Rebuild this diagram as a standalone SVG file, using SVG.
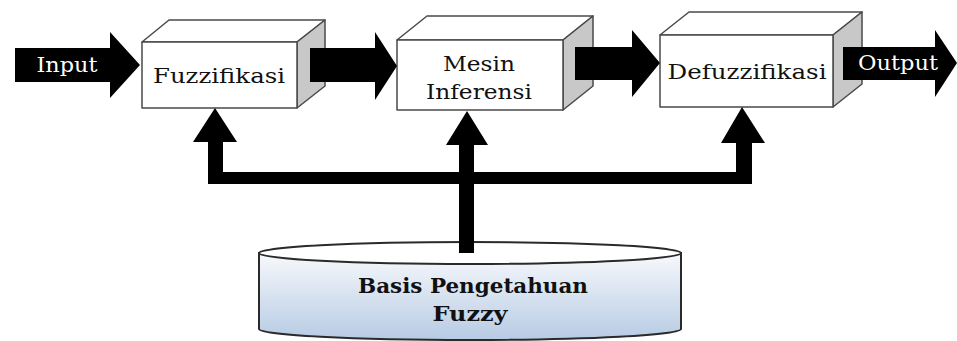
<svg xmlns="http://www.w3.org/2000/svg" width="957" height="341" viewBox="0 0 957 341">
<defs>
<linearGradient id="cylGrad" x1="0" y1="0" x2="0" y2="1">
<stop offset="0" stop-color="#f7f9fc"/>
<stop offset="1" stop-color="#b7cbe4"/>
</linearGradient>
<style>
.face{fill:#ffffff;stroke:#4a4a4a;stroke-width:1.5;stroke-linejoin:round}
.side{fill:#c8c8c8;stroke:#4a4a4a;stroke-width:1.5;stroke-linejoin:round}
.blk{fill:#000000}
.lbl{font-family:"DejaVu Serif","Liberation Serif",serif;font-size:20.5px;fill:#111111;text-anchor:middle}
.wlbl{font-family:"DejaVu Serif","Liberation Serif",serif;font-size:20.5px;fill:#ffffff;text-anchor:middle}
.blbl{font-family:"DejaVu Serif","Liberation Serif",serif;font-size:19.5px;font-weight:bold;fill:#111111;text-anchor:middle}
</style>
</defs>
<rect width="957" height="341" fill="#ffffff"/>

<g id="basis">
<path d="M259,253 L259,329 A211,11 0 0 0 681,329 L681,253 Z" fill="url(#cylGrad)" stroke="#2a2a2a" stroke-width="2"/>
<ellipse cx="470" cy="253" rx="211" ry="11" fill="#ffffff" stroke="#2a2a2a" stroke-width="2"/>
<text class="blbl" x="473" y="293" textLength="230" lengthAdjust="spacingAndGlyphs">Basis Pengetahuan</text>
<text class="blbl" x="470" y="321" textLength="75" lengthAdjust="spacingAndGlyphs">Fuzzy</text>
</g>

<g id="fuzzifikasi">
<polygon class="face" points="142,42 169,20 325,20 297,42"/>
<polygon class="side" points="297,42 325,20 325,86 297,108"/>
<rect class="face" x="142" y="42" width="155" height="66"/>
<text class="lbl" x="219" y="83" textLength="132" lengthAdjust="spacingAndGlyphs">Fuzzifikasi</text>
</g>

<g id="mesin">
<polygon class="face" points="397,40 427,16 593,16 563,40"/>
<polygon class="side" points="563,40 593,16 593,86 563,110"/>
<rect class="face" x="397" y="40" width="166" height="70"/>
<text class="lbl" x="479" y="71" textLength="72" lengthAdjust="spacingAndGlyphs">Mesin</text>
<text class="lbl" x="479" y="99" textLength="106" lengthAdjust="spacingAndGlyphs">Inferensi</text>
</g>

<g id="defuzzifikasi">
<polygon class="face" points="660,35 689,12 862,12 833,35"/>
<polygon class="side" points="833,35 862,12 862,84 833,107"/>
<rect class="face" x="660" y="35" width="173" height="72"/>
<text class="lbl" x="747" y="79" textLength="159" lengthAdjust="spacingAndGlyphs">Defuzzifikasi</text>
</g>

<g id="connectors">
<polygon class="blk" points="15,48 110,48 110,32 140,65 110,98 110,82 15,82"/>
<polygon class="blk" points="310,48 375,48 375,32 397,66 375,100 375,82 310,82"/>
<polygon class="blk" points="575,47 632,47 632,30 660,63 632,97 632,80 575,80"/>
<polygon class="blk" points="843,47 935,47 935,30 957,63 935,97 935,80 843,80"/>
<polygon class="blk" points="215,108 237,142 223,142 223,172 459,172 459,145 446,145 467,111 488,145 474,145 474,172 736,172 736,143 721,143 742,107 765,143 752,143 752,184 474,184 474,253 459,253 459,184 208,184 208,142 193,142"/>
</g>

<g id="io-labels">
<text class="wlbl" x="67" y="72" textLength="61" lengthAdjust="spacingAndGlyphs">Input</text>
<text class="wlbl" x="898" y="70" textLength="80" lengthAdjust="spacingAndGlyphs">Output</text>
</g>
</svg>
